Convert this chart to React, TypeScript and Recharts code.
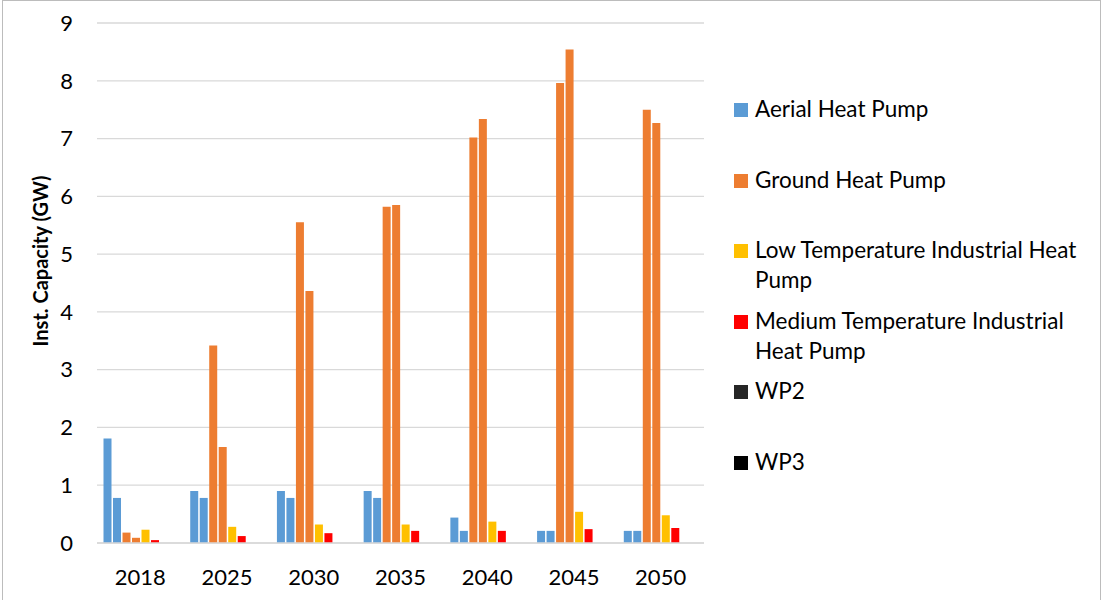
import React from 'react';
import { BarChart, Bar, XAxis, YAxis, CartesianGrid } from 'recharts';

const years = ['2018', '2025', '2030', '2035', '2040', '2045', '2050'];
const aerialA = [1.81, 0.9, 0.9, 0.9, 0.44, 0.21, 0.21];
const aerialB = [0.78, 0.78, 0.78, 0.78, 0.21, 0.21, 0.21];
const groundA = [0.18, 3.42, 5.55, 5.82, 7.02, 7.96, 7.5];
const groundB = [0.09, 1.66, 4.36, 5.85, 7.34, 8.54, 7.27];
const lowTemp = [0.23, 0.28, 0.32, 0.32, 0.37, 0.54, 0.48];
const mediumTemp = [0.05, 0.12, 0.17, 0.21, 0.21, 0.24, 0.26];
const wp2 = [0, 0, 0, 0, 0, 0, 0];
const wp3 = [0, 0, 0, 0, 0, 0, 0];
const yTicks = [0, 1, 2, 3, 4, 5, 6, 7, 8, 9];

const legendItems = [
  { label: 'Aerial Heat Pump', color: '#5B9BD5' },
  { label: 'Ground Heat Pump', color: '#ED7D31' },
  { label: 'Low Temperature Industrial Heat\nPump', color: '#FFC000' },
  { label: 'Medium Temperature Industrial\nHeat Pump', color: '#FF0000' },
  { label: 'WP2', color: '#262626' },
  { label: 'WP3', color: '#000000' },
];

const data = years.map((y, i) => ({
  year: y,
  aerialA: aerialA[i],
  aerialB: aerialB[i],
  groundA: groundA[i],
  groundB: groundB[i],
  lowTemp: lowTemp[i],
  mediumTemp: mediumTemp[i],
  wp2: wp2[i],
  wp3: wp3[i],
}));

const FONT = 'Lato, "Open Sans", sans-serif';

const YLabel = () => (
  <text
    x={48}
    y={261}
    transform="rotate(-90, 48, 261)"
    textAnchor="middle"
    fontFamily={FONT}
    fontWeight={700}
    fontSize={20}
    fill="#000"
  >
    Inst. Capacity (GW)
  </text>
);

export default function App() {
  return (
    <div
      style={{
        position: 'absolute',
        left: 0,
        top: 0,
        width: 1104,
        height: 600,
        background: '#fff',
        fontFamily: FONT,
      }}
    >
      <div
        style={{
          position: 'absolute',
          left: 2,
          top: 0,
          width: 1099,
          height: 602,
          border: '1px solid #bcbcbc',
          boxSizing: 'border-box',
        }}
      />
      <BarChart
        width={1104}
        height={600}
        data={data}
        margin={{ top: 23, right: 400, bottom: 27, left: 37 }}
        barCategoryGap="7.5%"
        barGap={1.5}
      >
        <CartesianGrid vertical={false} stroke="#d9d9d9" strokeWidth={1.3} />
        <XAxis
          dataKey="year"
          axisLine={{ stroke: '#d9d9d9', strokeWidth: 1.3 }}
          tickLine={false}
          tickSize={0}
          tickMargin={26}
          height={30}
          tick={{ fill: '#000', fontSize: 22, fontFamily: FONT }}
        />
        <YAxis
          width={60}
          domain={[0, 9]}
          ticks={yTicks}
          interval={0}
          axisLine={false}
          tickLine={false}
          tickSize={0}
          tickMargin={24}
          tick={{ fill: '#000', fontSize: 22, fontFamily: FONT }}
          label={{ content: YLabel }}
        />
        <Bar dataKey="aerialA" fill="#5B9BD5" isAnimationActive={false} />
        <Bar dataKey="aerialB" fill="#5B9BD5" isAnimationActive={false} />
        <Bar dataKey="groundA" fill="#ED7D31" isAnimationActive={false} />
        <Bar dataKey="groundB" fill="#ED7D31" isAnimationActive={false} />
        <Bar dataKey="lowTemp" fill="#FFC000" isAnimationActive={false} />
        <Bar dataKey="mediumTemp" fill="#FF0000" isAnimationActive={false} />
        <Bar dataKey="wp2" fill="#262626" isAnimationActive={false} />
        <Bar dataKey="wp3" fill="#000000" isAnimationActive={false} />
      </BarChart>
      {legendItems.map((item, i) => (
        <div
          key={item.label}
          style={{
            position: 'absolute',
            left: 734,
            top: 94 + i * 70.5,
            display: 'flex',
            alignItems: 'flex-start',
          }}
        >
          <div
            style={{
              width: 14,
              height: 14,
              marginTop: 9,
              background: item.color,
              flexShrink: 0,
            }}
          />
          <div
            style={{
              marginLeft: 7,
              fontSize: 22.5,
              lineHeight: '30px',
              color: '#000',
              whiteSpace: 'pre-line',
            }}
          >
            {item.label}
          </div>
        </div>
      ))}
    </div>
  );
}
